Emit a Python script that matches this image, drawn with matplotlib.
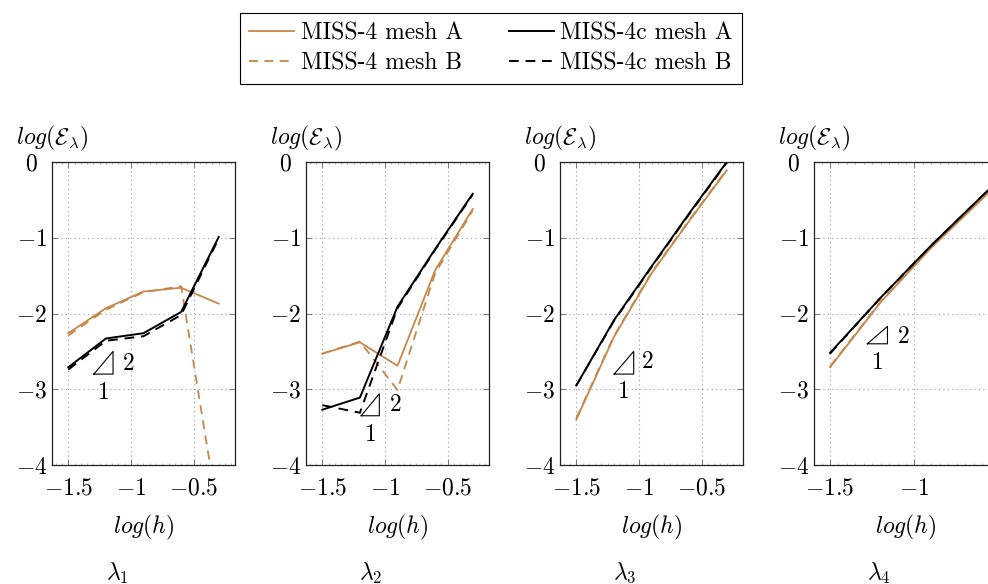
import matplotlib
matplotlib.use('Agg')
import matplotlib.pyplot as plt
from matplotlib.font_manager import FontProperties
from matplotlib.lines import Line2D
from matplotlib.ticker import MultipleLocator

plt.rcParams['mathtext.fontset'] = 'cm'
plt.rcParams['font.family'] = ['cmr10', 'DejaVu Serif']
plt.rcParams['axes.unicode_minus'] = False

# ---------------- data ----------------
LOG_H = [-1.5, -1.2, -0.9, -0.6, -0.3]

P1_MISS4_A = [-2.26, -1.93, -1.71, -1.66, -1.87]
P1_MISS4_B = [-2.29, -1.95, -1.72, -1.64, -4.70]
P1_MISS4C_A = [-2.71, -2.33, -2.26, -1.98, -0.99]
P1_MISS4C_B = [-2.74, -2.36, -2.30, -2.02, -1.01]

P2_MISS4_A = [-2.53, -2.38, -2.69, -1.43, -0.62]
P2_MISS4_B = [-2.53, -2.37, -3.01, -1.47, -0.64]
P2_MISS4C_A = [-3.27, -3.11, -1.91, -1.15, -0.42]
P2_MISS4C_B = [-3.21, -3.31, -1.93, -1.16, -0.43]

P3_MISS4_A = [-3.40, -2.31, -1.47, -0.78, -0.11]
P3_MISS4_B = [-3.38, -2.30, -1.46, -0.77, -0.10]
P3_MISS4C_A = [-2.95, -2.09, -1.38, -0.68, 0.00]
P3_MISS4C_B = [-2.95, -2.10, -1.39, -0.69, -0.01]

P4_MISS4_A = [-2.71, -1.85, -1.13, -0.49, 0.15]
P4_MISS4_B = [-2.70, -1.84, -1.12, -0.48, 0.16]
P4_MISS4C_A = [-2.52, -1.79, -1.10, -0.45, 0.20]
P4_MISS4C_B = [-2.53, -1.79, -1.10, -0.45, 0.19]

PANEL_TITLES = [r'$\lambda_1$', r'$\lambda_2$', r'$\lambda_3$', r'$\lambda_4$']
SERIES_LABELS = ['MISS-4 mesh A', 'MISS-4 mesh B', 'MISS-4c mesh A', 'MISS-4c mesh B']
XTICKS = [-1.5, -1.0, -0.5]
XTICK_LABELS = [r'$-1.5$', r'$-1$', r'$-0.5$']
YTICKS = [0, -1, -2, -3, -4]
YTICK_LABELS = [r'$0$', r'$-1$', r'$-2$', r'$-3$', r'$-4$']

# slope triangles (x0, x1, y0, y1) and label positions
TRI = [(-1.296, -1.143, -2.80, -2.50),
       (-1.190, -1.045, -3.35, -3.06),
       (-1.198, -1.042, -2.80, -2.50),
       (-1.279, -1.160, -2.40, -2.17)]
TRI_LBL2 = [(-1.025, -2.66), (-0.92, -3.21), (-0.932, -2.64), (-1.067, -2.31)]
TRI_LBL1 = [(-1.225, -3.05), (-1.12, -3.60), (-1.129, -3.04), (-1.22, -2.65)]

PANELS = [
    (P1_MISS4_A, P1_MISS4_B, P1_MISS4C_A, P1_MISS4C_B),
    (P2_MISS4_A, P2_MISS4_B, P2_MISS4C_A, P2_MISS4C_B),
    (P3_MISS4_A, P3_MISS4_B, P3_MISS4C_A, P3_MISS4C_B),
    (P4_MISS4_A, P4_MISS4_B, P4_MISS4C_A, P4_MISS4C_B),
]

# ---------------- styling ----------------
ORANGE = '#C8874A'
BLACK = 'black'
W, H = 988, 584
FS = 17

fig = plt.figure(figsize=(W / 100, H / 100), dpi=100)

lefts = [52, 306, 560, 814]
widths = [183, 183, 183, 239]
xlims = [(-1.63, -0.17), (-1.63, -0.17), (-1.63, -0.17), (-1.595, -0.18)]
top, bottom = 162, 465

styles = [
    dict(color=ORANGE, lw=1.3, ls='-'),
    dict(color=ORANGE, lw=1.3, ls=(0, (5, 3.5))),
    dict(color=BLACK, lw=1.4, ls='-'),
    dict(color=BLACK, lw=1.4, ls=(0, (5, 3.5))),
]

for i, series in enumerate(PANELS):
    l, w = lefts[i], widths[i]
    ax = fig.add_axes([l / W, 1 - bottom / H, w / W, (bottom - top) / H])
    for s, st in zip(series, styles):
        ax.plot(LOG_H, s, **st)
    ax.set_xlim(*xlims[i])
    ax.set_ylim(-4, 0)
    if i < 3:
        ax.set_xticks(XTICKS)
        ax.set_xticklabels(XTICK_LABELS)
    else:
        ax.set_xticks(XTICKS[:2])
        ax.set_xticklabels(XTICK_LABELS[:2])
    ax.set_yticks(YTICKS)
    ax.set_yticklabels(YTICK_LABELS)
    ax.xaxis.set_minor_locator(MultipleLocator(0.05))
    ax.tick_params(which='major', direction='in', length=4.5, width=0.7, color='#777777',
                   top=True, right=True, labelsize=FS)
    ax.tick_params(axis='x', which='major', pad=9)
    ax.tick_params(axis='y', which='major', pad=14.5)
    ax.tick_params(which='minor', direction='in', length=1.6, width=0.5, color='#999999',
                   top=True, bottom=True)
    for lbl in ax.get_yticklabels():
        lbl.set_ha('center')
    ax.grid(True, which='major', linestyle=(0, (1, 3)), color='#999999', lw=0.8)
    for sp in ax.spines.values():
        sp.set_linewidth(0.9)
        sp.set_color('#222222')

    # slope triangle
    x0, x1, y0, y1 = TRI[i]
    ax.plot([x0, x1, x1, x0], [y0, y0, y1, y0], color='black', lw=0.8)
    ax.text(*TRI_LBL2[i], r'$2$', fontsize=FS, ha='center', va='center')
    ax.text(*TRI_LBL1[i], r'$1$', fontsize=FS, ha='center', va='center')

    # labels
    fig.text(l / W, 1 - 138 / H, r'$log(\mathcal{E}_\lambda)$', fontsize=FS,
             ha='center', va='center')
    fig.text((l + 91.5) / W, 1 - 527 / H, r'$log(h)$', fontsize=FS,
             ha='center', va='center')
    fig.text((l + 65) / W, 1 - 573 / H, PANEL_TITLES[i], fontsize=FS,
             ha='center', va='center')

handles = [Line2D([], [], **styles[0]), Line2D([], [], **styles[1]),
           Line2D([], [], **styles[2]), Line2D([], [], **styles[3])]
leg = fig.legend(handles, SERIES_LABELS, loc='center', bbox_to_anchor=(491 / W, 1 - 48.5 / H),
                 ncol=2, frameon=True, fancybox=False, edgecolor='black', framealpha=1,
                 prop=FontProperties(family='cmr10', size=FS), handlelength=1.9,
                 handletextpad=0.28, columnspacing=1.95, labelspacing=0.35, borderpad=0.38)
leg.get_frame().set_linewidth(0.8)

fig.savefig('out.png', dpi=100)
